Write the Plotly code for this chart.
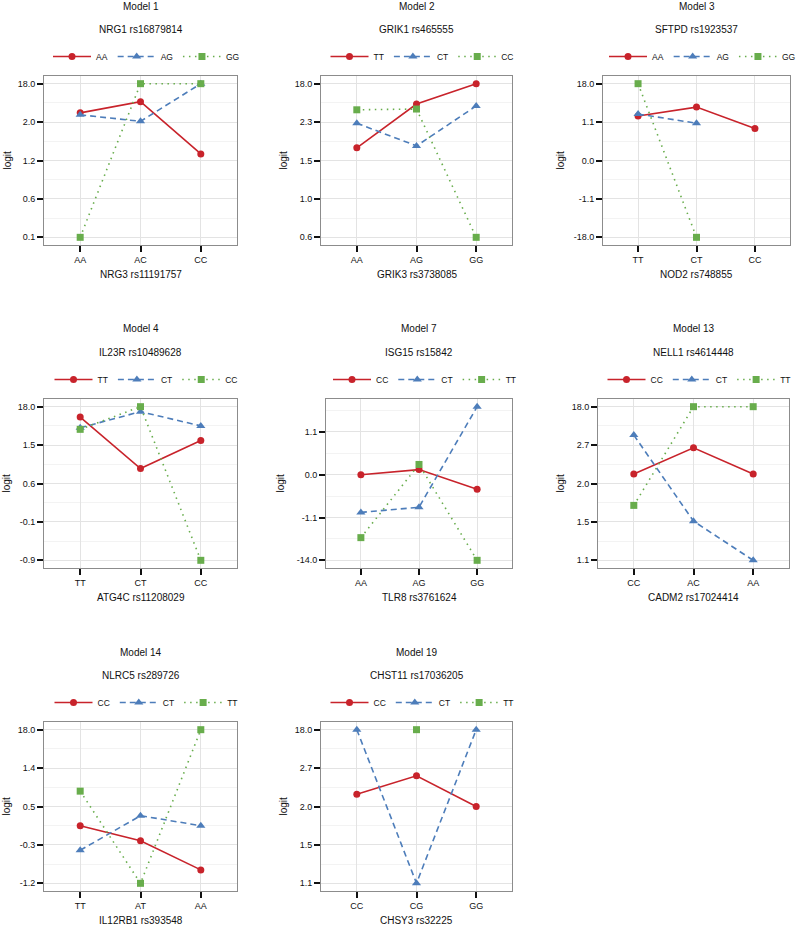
import plotly.graph_objects as go

# ---------------- data (y values are positions on each panel's logit tick scale) -------------
m1_title, m1_gene, m1_xgene = "Model 1", "NRG1 rs16879814", "NRG3 rs11191757"
m1_x = ["AA", "AC", "CC"]
m1_groups = ["AA", "AG", "GG"]
m1_yticks = ["0.1", "0.6", "1.2", "2.0", "18.0"]
m1_s1 = [3.24, 3.53, 2.17]
m1_s2 = [3.19, 3.02, 4.0]
m1_s3 = [0.0, 4.0, 4.0]

m2_title, m2_gene, m2_xgene = "Model 2", "GRIK1 rs465555", "GRIK3 rs3738085"
m2_x = ["AA", "AG", "GG"]
m2_groups = ["TT", "CT", "CC"]
m2_yticks = ["0.6", "1.0", "1.5", "2.3", "18.0"]
m2_s1 = [2.33, 3.47, 4.0]
m2_s2 = [2.97, 2.38, 3.42]
m2_s3 = [3.32, 3.34, 0.0]

m3_title, m3_gene, m3_xgene = "Model 3", "SFTPD rs1923537", "NOD2 rs748855"
m3_x = ["TT", "CT", "CC"]
m3_groups = ["AA", "AG", "GG"]
m3_yticks = ["-18.0", "-1.1", "0.0", "1.1", "18.0"]
m3_s1 = [3.16, 3.39, 2.83]
m3_s2 = [3.21, 2.97, None]
m3_s3 = [4.0, 0.0, None]

m4_title, m4_gene, m4_xgene = "Model 4", "IL23R rs10489628", "ATG4C rs11208029"
m4_x = ["TT", "CT", "CC"]
m4_groups = ["TT", "CT", "CC"]
m4_yticks = ["-0.9", "-0.1", "0.6", "1.5", "18.0"]
m4_s1 = [3.73, 2.39, 3.12]
m4_s2 = [3.45, 3.87, 3.50]
m4_s3 = [3.41, 4.0, 0.0]

m7_title, m7_gene, m7_xgene = "Model 7", "ISG15 rs15842", "TLR8 rs3761624"
m7_x = ["AA", "AG", "GG"]
m7_groups = ["CC", "CT", "TT"]
m7_yticks = ["-14.0", "-1.1", "0.0", "1.1"]
m7_s1 = [2.0, 2.12, 1.66]
m7_s2 = [1.12, 1.24, 3.59]
m7_s3 = [0.53, 2.24, 0.0]

m13_title, m13_gene, m13_xgene = "Model 13", "NELL1 rs4614448", "CADM2 rs17024414"
m13_x = ["CC", "AC", "AA"]
m13_groups = ["CC", "CT", "TT"]
m13_yticks = ["1.1", "1.5", "2.0", "2.7", "18.0"]
m13_s1 = [2.25, 2.93, 2.25]
m13_s2 = [3.26, 1.02, 0.0]
m13_s3 = [1.43, 4.0, 4.0]

m14_title, m14_gene, m14_xgene = "Model 14", "NLRC5 rs289726", "IL12RB1 rs393548"
m14_x = ["TT", "AT", "AA"]
m14_groups = ["CC", "CT", "TT"]
m14_yticks = ["-1.2", "-0.3", "0.5", "1.4", "18.0"]
m14_s1 = [1.50, 1.11, 0.35]
m14_s2 = [0.86, 1.76, 1.50]
m14_s3 = [2.40, 0.0, 4.0]

m19_title, m19_gene, m19_xgene = "Model 19", "CHST11 rs17036205", "CHSY3 rs32225"
m19_x = ["CC", "CG", "GG"]
m19_groups = ["CC", "CT", "TT"]
m19_yticks = ["1.1", "1.5", "2.0", "2.7", "18.0"]
m19_s1 = [2.32, 2.80, 2.0]
m19_s2 = [4.0, 0.0, 4.0]
m19_s3 = [None, 4.0, None]

panels = [
    (m1_title, m1_gene, m1_xgene, m1_x, m1_groups, m1_yticks, [m1_s1, m1_s2, m1_s3]),
    (m2_title, m2_gene, m2_xgene, m2_x, m2_groups, m2_yticks, [m2_s1, m2_s2, m2_s3]),
    (m3_title, m3_gene, m3_xgene, m3_x, m3_groups, m3_yticks, [m3_s1, m3_s2, m3_s3]),
    (m4_title, m4_gene, m4_xgene, m4_x, m4_groups, m4_yticks, [m4_s1, m4_s2, m4_s3]),
    (m7_title, m7_gene, m7_xgene, m7_x, m7_groups, m7_yticks, [m7_s1, m7_s2, m7_s3]),
    (m13_title, m13_gene, m13_xgene, m13_x, m13_groups, m13_yticks, [m13_s1, m13_s2, m13_s3]),
    (m14_title, m14_gene, m14_xgene, m14_x, m14_groups, m14_yticks, [m14_s1, m14_s2, m14_s3]),
    (m19_title, m19_gene, m19_xgene, m19_x, m19_groups, m19_yticks, [m19_s1, m19_s2, m19_s3]),
]

# ---------------- layout geometry (pixels) ----------------
W, H = 800, 925
plot_x = [(44, 237), (321, 512), (603, 790),
          (44, 237), (326, 512), (598, 789),
          (44, 237), (321, 512)]
plot_y = [(76, 245), (76, 245), (76, 245),
          (399, 568), (399, 568), (399, 568),
          (722, 891), (722, 891)]
ylab_x = [7, 283, 560, 6, 280, 560, 6, 283]

colors = ["#C8232B", "#4D7DBA", "#68AD4C"]
dashes = ["solid", "6px,4px", "1.5px,4.5px"]
symbols = ["circle", "triangle-up", "square"]
msizes = [7, 8, 7]

FONT = "Helvetica, Liberation Sans, Arial, sans-serif"
fig = go.Figure()
annotations = []
layout = {}

def px_x(v):
    return v / W

def px_y(v):
    return 1 - v / H

for i, (title, gene, xgene, xc, groups, yt, series) in enumerate(panels):
    n = i + 1
    xa = "x" if n == 1 else f"x{n}"
    ya = "y" if n == 1 else f"y{n}"
    lg = "legend" if n == 1 else f"legend{n}"
    for k in range(3):
        fig.add_trace(go.Scatter(
            x=xc, y=series[k], xaxis=xa, yaxis=ya, name=groups[k], legend=lg,
            mode="lines+markers",
            line=dict(color=colors[k], width=1.6, dash=dashes[k]),
            marker=dict(color=colors[k], symbol=symbols[k], size=msizes[k]),
            connectgaps=False, hoverinfo="skip"))
    vals = [v for s in series for v in s if v is not None]
    lo, hi = min(vals), max(vals)
    pad = 0.05 * (hi - lo)
    x0, x1 = plot_x[i]
    y0, y1 = plot_y[i]
    layout["xaxis" if n == 1 else f"xaxis{n}"] = dict(
        domain=[px_x(x0), px_x(x1)], anchor=ya, type="category",
        categoryorder="array", categoryarray=xc, range=[-0.6, 2.6],
        showgrid=True, gridcolor="#E3E3E3", gridwidth=1,
        showline=True, mirror=True, linecolor="#8C8C8C", linewidth=1,
        ticks="outside", ticklen=6, tickwidth=1.8, tickcolor="#111111",
        tickfont=dict(size=9, color="#111111", family=FONT), zeroline=False)
    layout["yaxis" if n == 1 else f"yaxis{n}"] = dict(
        domain=[px_y(y1), px_y(y0)], anchor=xa,
        range=[lo - pad, hi + pad],
        tickmode="array", tickvals=list(range(len(yt))), ticktext=yt,
        showgrid=True, gridcolor="#E3E3E3", gridwidth=1,
        minor=dict(tickmode="linear", tick0=0.5, dtick=1, showgrid=True,
                   gridcolor="#F3F3F3", gridwidth=1, ticks=""),
        showline=True, mirror=True, linecolor="#8C8C8C", linewidth=1,
        ticks="outside", ticklen=6, tickwidth=1.8, tickcolor="#111111",
        tickfont=dict(size=9, color="#111111", family=FONT), zeroline=False)
    cx = (x0 + x1) / 2
    layout[lg] = dict(
        orientation="h", x=px_x(cx + 6), y=px_y(y0 - 19.5),
        xanchor="center", yanchor="middle", xref="paper", yref="paper",
        itemwidth=38, font=dict(size=8.5, color="#111111", family=FONT),
        bgcolor="rgba(0,0,0,0)", tracegroupgap=0, itemclick=False)
    annotations += [
        dict(text=title, x=px_x(cx), y=px_y(y0 - 70), xref="paper", yref="paper",
             showarrow=False, xanchor="center", yanchor="middle",
             font=dict(size=10, color="#111111", family=FONT)),
        dict(text=gene, x=px_x(cx), y=px_y(y0 - 47), xref="paper", yref="paper",
             showarrow=False, xanchor="center", yanchor="middle",
             font=dict(size=10, color="#111111", family=FONT)),
        dict(text=xgene, x=px_x(cx), y=px_y(y1 + 29), xref="paper", yref="paper",
             showarrow=False, xanchor="center", yanchor="middle",
             font=dict(size=10, color="#111111", family=FONT)),
        dict(text="logit", x=px_x(ylab_x[i]), y=px_y((y0 + y1) / 2), xref="paper",
             yref="paper", showarrow=False, xanchor="center", yanchor="middle",
             textangle=-90, font=dict(size=10, color="#111111", family=FONT)),
    ]

fig.update_layout(
    width=W, height=H, margin=dict(l=0, r=0, t=0, b=0, autoexpand=False),
    paper_bgcolor="white", plot_bgcolor="white",
    font=dict(family=FONT, size=9, color="#111111"),
    annotations=annotations, showlegend=True, **layout)

fig.write_html("out.html", config={"displayModeBar": False},
               post_script="document.body.style.margin='0';document.body.style.padding='0';")
